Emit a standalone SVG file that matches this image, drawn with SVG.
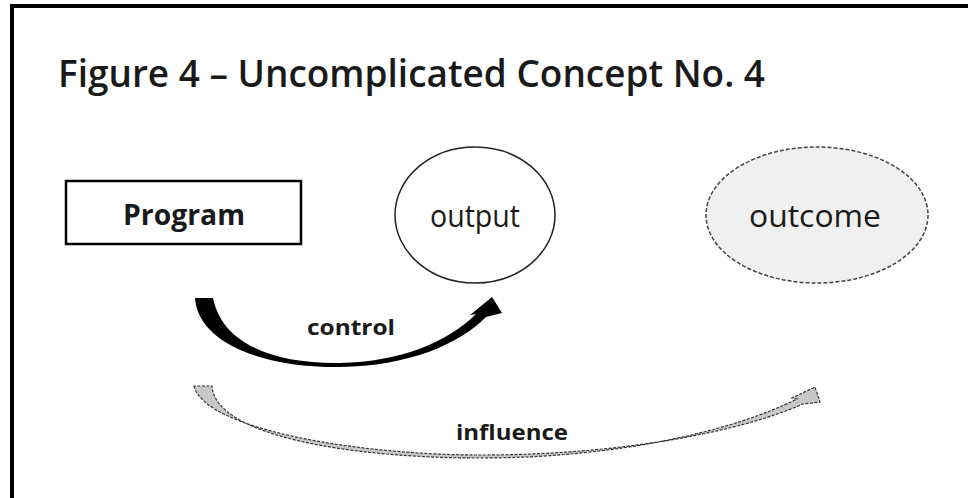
<svg xmlns="http://www.w3.org/2000/svg" width="968" height="498" viewBox="0 0 968 498">
<style>
.t{font-family:"Open Sans","Liberation Sans",sans-serif;fill:#1a1a1a}
.b{font-weight:700}
</style>
<rect width="968" height="498" fill="#ffffff"/>
<rect x="12" y="6" width="1000" height="600" fill="none" stroke="#000" stroke-width="4"/>
<text class="t" x="58" y="87" font-size="38" font-weight="600" textLength="707" lengthAdjust="spacingAndGlyphs">Figure 4 – Uncomplicated Concept No. 4</text>
<g id="program">
<rect x="66" y="181" width="235" height="63" fill="#fff" stroke="#000" stroke-width="2.5"/>
<text class="t b" x="184" y="225" font-size="28" text-anchor="middle" textLength="122" lengthAdjust="spacingAndGlyphs">Program</text>
</g>
<g id="output">
<ellipse cx="475" cy="215" rx="80" ry="68" fill="#fff" stroke="#222" stroke-width="1.5"/>
<text class="t" x="475" y="227" font-size="31" text-anchor="middle" textLength="90" lengthAdjust="spacingAndGlyphs">output</text>
</g>
<g id="outcome">
<ellipse cx="817" cy="215" rx="111" ry="68" fill="#f0f0f0" stroke="#444" stroke-width="1.5" stroke-dasharray="4,2"/>
<text class="t" x="815" y="227" font-size="31" text-anchor="middle" textLength="132" lengthAdjust="spacingAndGlyphs">outcome</text>
</g>
<g id="connectors">
<g id="control">
<path d="M195,298 C198,345 268,368 340,367 C408,366 458,345 486,317 L502,313 L492,297 L470,315 L476,314 C448,342 400,362 340,363 C272,364 222,343 213,298 Z" fill="#000"/>
<text class="t b" x="351" y="335" font-size="21" text-anchor="middle" textLength="88" lengthAdjust="spacingAndGlyphs">control</text>
</g>
<g id="influence">
<path d="M194,386 C205,430 360,455 480,455 C620,455 740,432 803,404 L820,402 L815,387 L792,398 L797,399 C735,430 620,458 480,458 C350,458 215,436 212,386 Z" fill="#c8c8c8" stroke="#333" stroke-width="1.2" stroke-dasharray="3,1.5"/>
<text class="t b" x="512" y="440" font-size="22" text-anchor="middle" textLength="112" lengthAdjust="spacingAndGlyphs">influence</text>
</g>
</g>
</svg>
